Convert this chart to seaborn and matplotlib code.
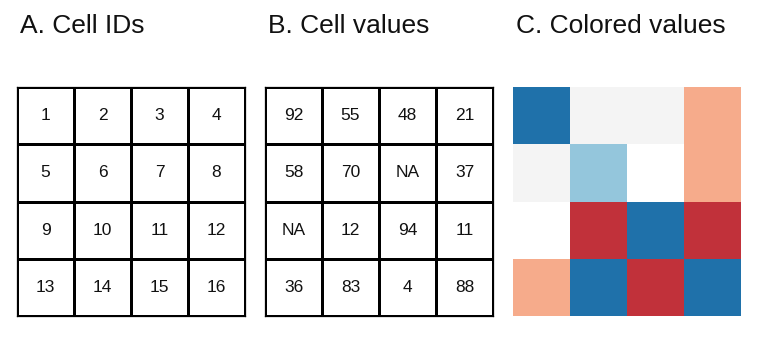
import numpy as np
import pandas as pd
import matplotlib
matplotlib.use("Agg")
import matplotlib.pyplot as plt
from matplotlib.colors import ListedColormap, BoundaryNorm
import seaborn as sns

sns.set_style("white")
plt.rcParams['font.family'] = ['Liberation Sans', 'DejaVu Sans']

# Data
cell_ids = [1, 2, 3, 4, 5, 6, 7, 8, 9, 10, 11, 12, 13, 14, 15, 16]
cell_values = [92, 55, 48, 21, 58, 70, np.nan, 37, np.nan, 12, 94, 11, 36, 83, 4, 88]
class_breaks = [0, 20, 40, 60, 80, 100]
class_colors = ["#c1313a", "#f6ab8b", "#f4f4f4", "#94c6dc", "#1f71aa"]
titles = ["A. Cell IDs", "B. Cell values", "C. Colored values"]

ids = np.array(cell_ids, dtype=float).reshape(4, 4)
vals = np.array(cell_values, dtype=float).reshape(4, 4)

W, H = 762, 337
fig = plt.figure(figsize=(W / 100, H / 100), dpi=100)

lefts = [17, 265, 513]
gw, gh = 228, 229
top = 87

white = ListedColormap(["white"])

def fmt_labels(a):
    return np.array([["NA" if np.isnan(v) else f"{int(v)}" for v in row] for row in a])

for i, left in enumerate(lefts):
    ax = fig.add_axes([left / W, (H - top - gh) / H, gw / W, gh / H])
    if i < 2:
        data = ids if i == 0 else vals
        labels = fmt_labels(data)
        sns.heatmap(np.zeros_like(data), ax=ax, cmap=white, cbar=False,
                    annot=labels, fmt="", linewidths=0.75, linecolor="black",
                    annot_kws={"fontsize": 12.5, "color": "#111111"},
                    xticklabels=False, yticklabels=False, square=False)
        for s in ax.spines.values():
            s.set_visible(True)
            s.set_color("black")
            s.set_linewidth(0.9)
    else:
        cmap = ListedColormap(class_colors)
        norm = BoundaryNorm(class_breaks, cmap.N)
        sns.heatmap(pd.DataFrame(vals), ax=ax, cmap=cmap, norm=norm, cbar=False,
                    xticklabels=False, yticklabels=False, linewidths=0)
        ax.set_facecolor("white")
    fig.text((left + 3) / W, (H - 33) / H, titles[i], fontsize=19,
             ha="left", va="baseline", color="#111111")

fig.savefig("out.png", dpi=100)
